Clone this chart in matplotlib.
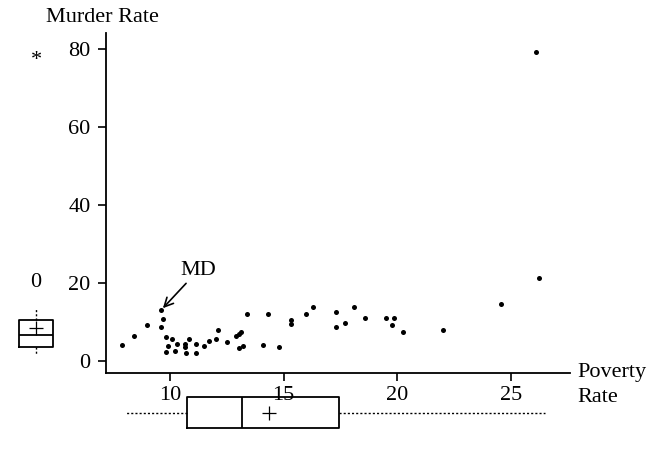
import matplotlib
matplotlib.use("Agg")
import matplotlib.pyplot as plt

plt.rcParams['font.family'] = ['Liberation Serif', 'DejaVu Serif']

# poverty rate (%) and murder rate (per 100,000) by state
poverty = [7.9, 8.4, 9.0, 9.6, 9.7, 9.6, 9.8, 10.1, 9.9, 10.3, 9.8, 10.2,
           10.65, 10.65, 10.7, 10.85, 11.15, 11.15, 11.5, 11.7, 12.0, 12.1,
           12.5, 12.9, 13.05, 13.1, 13.05, 13.2, 13.4, 14.3, 14.1, 14.8,
           15.3, 15.3, 16.0, 16.3, 17.3, 17.3, 17.7, 18.1, 18.6, 19.5,
           19.85, 19.75, 20.25, 22.0, 24.55, 26.1, 26.25]
murder = [4.0, 6.5, 9.3, 13.0, 10.7, 8.6, 6.2, 5.5, 3.9, 4.3, 2.3, 2.6,
          4.3, 3.5, 2.0, 5.6, 4.3, 2.1, 3.8, 5.0, 5.6, 7.9,
          4.9, 6.5, 7.0, 7.3, 3.4, 3.9, 12.0, 12.0, 4.0, 3.6,
          10.4, 9.4, 12.0, 13.9, 12.5, 8.7, 9.7, 13.9, 11.1, 11.0,
          11.0, 9.2, 7.4, 7.9, 14.5, 79.3, 21.3]
md_point = (9.6, 13.0)

# box plot summaries read from the margins
murder_box = dict(whislo=1.5, q1=3.6, med=6.7, q3=10.5, whishi=13.6, mean=8.5)
murder_outliers = [(20.0, '0'), (77.0, '*')]
poverty_box = dict(whislo=8.06, q1=10.75, med=13.17, q3=17.44, whishi=26.5, mean=14.36)

y_ticks = [0, 20, 40, 60, 80]
x_ticks = [10, 15, 20, 25]

W, H = 648, 459
fig = plt.figure(figsize=(W / 100, H / 100), dpi=100)

ax = fig.add_axes([106 / W, 1 - 373 / H, 464 / W, 340 / H])
ax.scatter(poverty, murder, s=13, color='black', marker='o', linewidths=0)
ax.set_xlim(7.18, 27.6)
ax.set_ylim(-3.1, 84.1)
ax.set_xticks(x_ticks)
ax.set_yticks(y_ticks)
for s in ['top', 'right']:
    ax.spines[s].set_visible(False)
for s in ['left', 'bottom']:
    ax.spines[s].set_linewidth(1.3)
ax.tick_params(axis='both', direction='out', length=6, width=1.2,
               labelsize=16, colors='black')
ax.tick_params(axis='y', pad=5)
ax.tick_params(axis='x', pad=3)
ax.annotate('MD', xy=md_point, xytext=(11.25, 23.3), ha='center', va='center',
            fontsize=16,
            arrowprops=dict(arrowstyle='->', color='black', lw=1.2,
                            shrinkA=1, shrinkB=2))

fig.text(46 / W, 1 - 18 / H, 'Murder Rate', fontsize=16, va='center', ha='left')
fig.text(577 / W, 1 - 373 / H, 'Poverty', fontsize=16, va='center', ha='left')
fig.text(577 / W, 1 - 397 / H, 'Rate', fontsize=16, va='center', ha='left')

box_kw = dict(showmeans=True, showcaps=False, showfliers=False,
              patch_artist=False,
              boxprops=dict(color='black', lw=1.3),
              medianprops=dict(color='black', lw=1.3),
              whiskerprops=dict(color='black', lw=1.0, ls=(0, (1.5, 1.5))),
              meanprops=dict(marker='+', markeredgecolor='black',
                             markersize=10, markeredgewidth=0.9))

# vertical box plot of murder rate on the left
axl = fig.add_axes([10 / W, 1 - 373 / H, 52 / W, 340 / H], sharey=ax)
axl.bxp([dict(murder_box, fliers=[])], positions=[0.5], widths=0.67,
        vert=True, **box_kw)
for yv, sym in murder_outliers:
    axl.text(0.5, yv, sym, ha='center', va='center', fontsize=16)
axl.set_xlim(0, 1)
axl.axis('off')

# horizontal box plot of poverty rate at the bottom
axb = fig.add_axes([106 / W, 1 - 435 / H, 464 / W, 45 / H], sharex=ax)
axb.bxp([dict(poverty_box, fliers=[])], positions=[0.5], widths=0.69,
        vert=False, **box_kw)
axb.set_ylim(0, 1)
axb.axis('off')

fig.savefig('out.png', dpi=100)
